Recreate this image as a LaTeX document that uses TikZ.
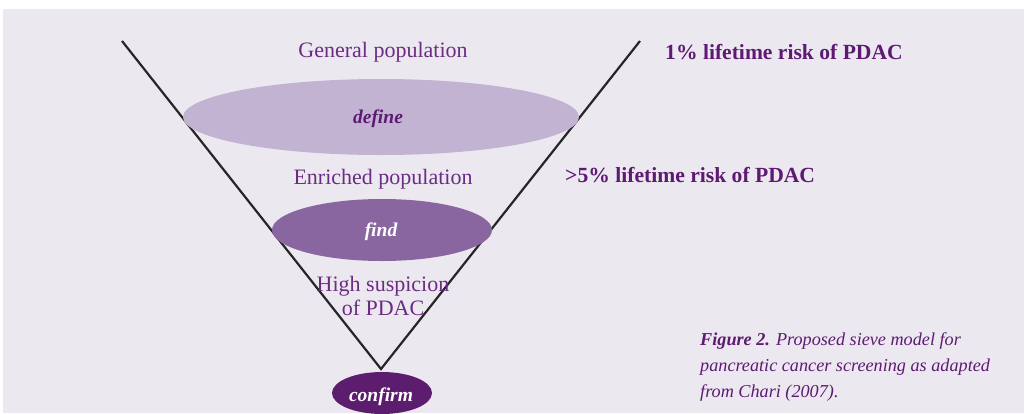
\documentclass[tikz,border=0pt]{standalone}
\usepackage{fontspec}
\setmainfont{Liberation Serif}
\begin{document}
\begin{tikzpicture}[x=1pt,y=-1pt,
  lbl/.style={text=txtpurple,font=\fontsize{22}{24}\selectfont,inner sep=0pt},
  risk/.style={text=txtdark,font=\bfseries\fontsize{21.6}{24}\selectfont,inner sep=0pt,anchor=west},
  sieve/.style={inner sep=0pt,font=\bfseries\itshape\fontsize{19.5}{21}\selectfont},
  funnel/.style={draw=black!85,line width=2.2pt}]
\definecolor{bgpanel}{HTML}{ECE8F0}
\definecolor{txtpurple}{HTML}{6B2C82}
\definecolor{txtdark}{HTML}{5E1A72}
\definecolor{ellA}{HTML}{C3B3D3}
\definecolor{ellB}{HTML}{8966A0}
\definecolor{ellC}{HTML}{5C1D6E}
\useasboundingbox (0,0) rectangle (1024,413);
\fill[white] (0,0) rectangle (1024,413);
\fill[bgpanel] (3,9) rectangle (1024,413);
% funnel sides
\coordinate (tl) at (122,41);
\coordinate (tr) at (640,41);
\coordinate (tip) at (381,369);
\draw[funnel] (tl) -- (tip) -- (tr);
% sieve stages
\fill[ellA] (381,117) ellipse [x radius=198, y radius=38];
\fill[ellB] (382,230) ellipse [x radius=110, y radius=31];
\fill[ellC] (382,393) ellipse [x radius=50, y radius=21];
\node[sieve,text=txtdark] (define) at (378,119) {define};
\node[sieve,text=white] (find) at (381,232) {find};
\node[sieve,text=white] (confirm) at (381,397) {confirm};
% population labels
\node[lbl] (gen) at (383,52) {General population};
\node[lbl] (enr) at (383,179) {Enriched population};
\node[lbl,align=center,font=\fontsize{22}{24}\selectfont] (high) at (383,296) {High suspicion\\of PDAC};
% risk labels
\node[risk] (r1) at (665,52) {1\% lifetime risk of PDAC};
\node[risk] (r5) at (565,175) {>5\% lifetime risk of PDAC};
% caption
\node[text=txtdark,anchor=north west,align=left,inner sep=0pt,
  font=\itshape\fontsize{18.2}{26}\selectfont] (cap) at (700,332)
  {\textbf{Figure 2.} Proposed sieve model for\\pancreatic cancer screening as adapted\\from Chari (2007).};
\end{tikzpicture}
\end{document}
